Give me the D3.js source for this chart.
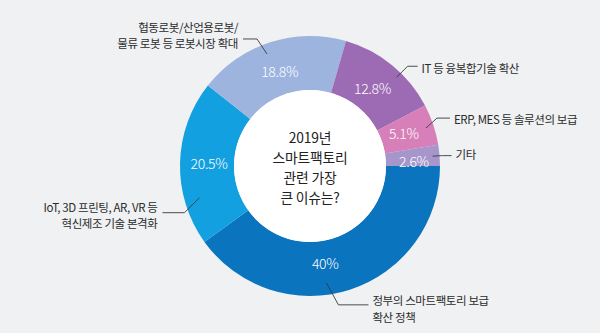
<!DOCTYPE html>
<html><head><meta charset="utf-8">
<script src="https://cdn.jsdelivr.net/npm/d3@7"></script>
<style>
html,body{margin:0;padding:0;background:#f0f1f3;}
svg{display:block;}
text{font-family:"Noto Sans CJK KR","Noto Sans",sans-serif;}
</style></head>
<body><svg id="c" width="600" height="333"></svg>
<script>
// ---- data ----
const categories = [
  "정부의 스마트팩토리 보급 확산 정책",
  "IoT, 3D 프린팅, AR, VR 등 혁신제조 기술 본격화",
  "협동로봇/산업용로봇/물류 로봇 등 로봇시장 확대",
  "IT 등 융복합기술 확산",
  "ERP, MES 등 솔루션의 보급",
  "기타"
];
const values = [40, 20.5, 18.8, 12.8, 5.1, 2.6];
const valueLabels = ["40%", "20.5%", "18.8%", "12.8%", "5.1%", "2.6%"];
const labelLines = [
  ["정부의 스마트팩토리 보급", "확산 정책"],
  ["IoT, 3D 프린팅, AR, VR 등", "혁신제조 기술 본격화"],
  ["협동로봇/산업용로봇/", "물류 로봇 등 로봇시장 확대"],
  ["IT 등 융복합기술 확산"],
  ["ERP, MES 등 솔루션의 보급"],
  ["기타"]
];
const colors = ["#0b74bf", "#13a0e0", "#9db4df", "#9c6bb4", "#d67fb8", "#a696cb"];
const centerTitle = ["2019년", "스마트팩토리", "관련 가장", "큰 이슈는?"];

// ---- layout (annotation placement) ----
const cx = 310, cy = 166, rOuter = 130, rInner = 76;
const leaders = [
  {ang:172, r:118, ex:12, ey:22, run:30, side:"right", ty:[305,322]},
  {ang:254, r:115, ex:-15, ey:15, run:-22, side:"left", ty:[212,228]},
  {ang:339, r:120, ex:-10, ey:-15, run:-14, side:"left", ty:[32,48]},
  {ang:44.3, r:124, ex:11, ey:-11, run:10, side:"right", ty:[73]},
  {ang:71.9, r:122, ex:11, ey:-10, run:13, side:"right", ty:[124]},
  {ang:85.4, r:123, ex:10, ey:-0.5, run:9, side:"right", ty:[159]}
];
const pctShift = [9, 0, 0, 0, 0, 2.5]; // degrees
const pctR = [99, 101, 99, 99, 99, 104];

const svg = d3.select("#c");
svg.append("rect").attr("width",600).attr("height",333).attr("fill","#f0f1f3");
const g = svg.append("g").attr("transform",`translate(${cx},${cy})`);

const pie = d3.pie().sort(null).startAngle(Math.PI/2).endAngle(Math.PI/2 + 2*Math.PI);
const arcs = pie(values);
const arc = d3.arc().innerRadius(rInner).outerRadius(rOuter);

g.selectAll("path.s").data(arcs).enter().append("path")
  .attr("d", arc).attr("fill", (d,i)=>colors[i]);

g.append("circle").attr("r", rInner).attr("fill","#ffffff");

const polar = (deg, r) => [r*Math.sin(deg*Math.PI/180), -r*Math.cos(deg*Math.PI/180)];

g.selectAll("text.p").data(arcs).enter().append("text")
  .attr("class","p")
  .attr("transform",(d,i)=>{
    const a = ((d.startAngle+d.endAngle)/2)*180/Math.PI + pctShift[i];
    const p = polar(a, pctR[i]);
    return `translate(${p[0]},${p[1]+5})`;
  })
  .attr("text-anchor","middle")
  .attr("fill","#ffffff").attr("font-size",14).attr("font-weight",300)
  .attr("letter-spacing",-0.3)
  .text((d,i)=>valueLabels[i]);

leaders.forEach((L,i)=>{
  const a = polar(L.ang, L.r);
  const e = [a[0]+L.ex, a[1]+L.ey];
  const f = [e[0]+L.run, e[1]];
  g.append("polyline")
    .attr("points",[a,e,f].map(p=>p.join(",")).join(" "))
    .attr("fill","none").attr("stroke","#3a3a3a").attr("stroke-width",0.9);
  const tx = f[0] + (L.side==="right" ? 4 : -5);
  labelLines[i].forEach((ln,j)=>{
    g.append("text")
      .attr("x", tx).attr("y", L.ty[j]-cy)
      .attr("text-anchor", L.side==="right" ? "start" : "end")
      .attr("fill","#2b2b2b").attr("font-size",11.5)
      .attr("letter-spacing",-0.4)
      .text(ln);
  });
});

const cyLines = [142.5, 162.5, 182.5, 202.5];
centerTitle.forEach((t,j)=>{
  g.append("text").attr("x",0).attr("y",cyLines[j]-cy)
    .attr("text-anchor","middle").attr("fill","#222")
    .attr("font-size",13.8).attr("letter-spacing",-0.2)
    .text(t);
});
</script></body></html>
